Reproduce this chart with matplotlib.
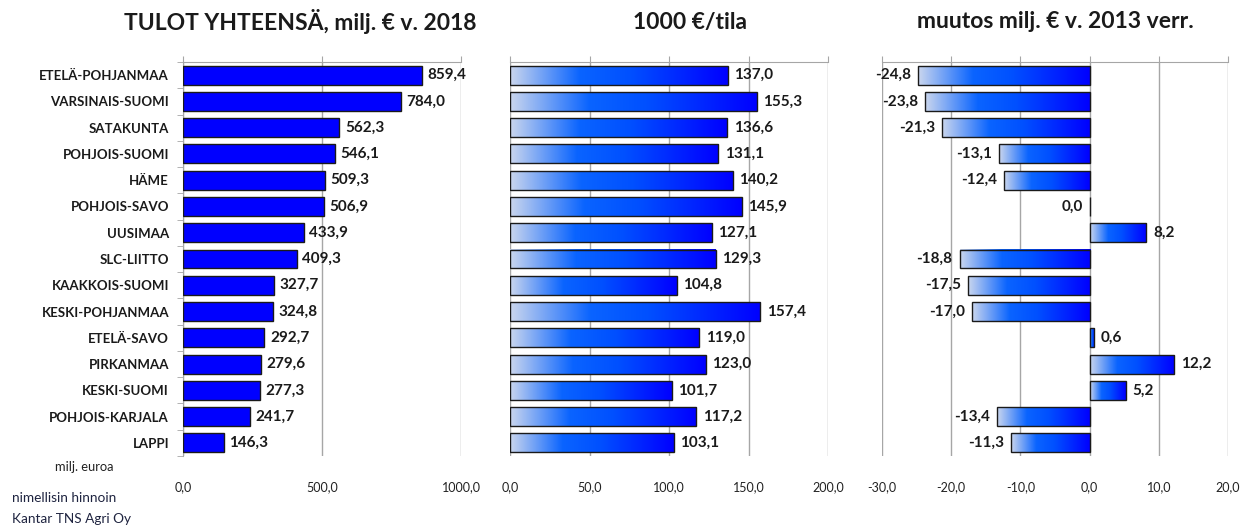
import numpy as np
import matplotlib.pyplot as plt
from matplotlib.colors import LinearSegmentedColormap

plt.rcParams['font.family'] = ['Lato', 'DejaVu Sans']

# Dados do gráfico
alueet = ['ETELÄ-POHJANMAA', 'VARSINAIS-SUOMI', 'SATAKUNTA', 'POHJOIS-SUOMI', 'HÄME',
          'POHJOIS-SAVO', 'UUSIMAA', 'SLC-LIITTO', 'KAAKKOIS-SUOMI', 'KESKI-POHJANMAA',
          'ETELÄ-SAVO', 'PIRKANMAA', 'KESKI-SUOMI', 'POHJOIS-KARJALA', 'LAPPI']
tulot = [859.4, 784.0, 562.3, 546.1, 509.3, 506.9, 433.9, 409.3, 327.7, 324.8,
         292.7, 279.6, 277.3, 241.7, 146.3]
tila = [137.0, 155.3, 136.6, 131.1, 140.2, 145.9, 127.1, 129.3, 104.8, 157.4,
        119.0, 123.0, 101.7, 117.2, 103.1]
muutos = [-24.8, -23.8, -21.3, -13.1, -12.4, 0.0, 8.2, -18.8, -17.5, -17.0,
          0.6, 12.2, 5.2, -13.4, -11.3]

otsikot = ['TULOT YHTEENSÄ, milj. € v. 2018', '1000 €/tila', 'muutos milj. € v. 2013 verr.']
rajat = [(0, 1000), (0, 200), (-30, 20)]
askeleet = [500, 50, 10]

# Degradê azul usado nos painéis 2 e 3
cmap = LinearSegmentedColormap.from_list(
    'sininen', [(0, '#cad6ee'), (0.32, '#0a64ff'), (0.55, '#0050ff'), (1, '#0000ff')])
gradiente = np.linspace(0, 1, 256).reshape(1, -1)

def fmt(v):
    return f'{v:.1f}'.replace('.', ',')

fig = plt.figure(figsize=(12.52, 5.31), dpi=100)
posicoes = [(183, 461), (510, 828), (882, 1228)]
topo, base = 62, 456
eixos = []
for (x0, x1) in posicoes:
    ax = fig.add_axes([x0 / 1252, 1 - base / 531, (x1 - x0) / 1252, (base - topo) / 531])
    eixos.append(ax)

y = np.arange(len(alueet))
altura = 0.72

for i, (ax, dados) in enumerate(zip(eixos, [tulot, tila, muutos])):
    lo, hi = rajat[i]
    if i == 0:
        ax.barh(y, dados, height=altura, color='#0000ff', edgecolor='#1a1a1a', linewidth=1.0, zorder=3)
    else:
        for yy, v in zip(y, dados):
            a, b = min(0, v), max(0, v)
            if b > a:
                ax.imshow(gradiente, cmap=cmap, aspect='auto', zorder=2,
                          extent=[a, b, yy + altura / 2, yy - altura / 2])
        ax.barh(y, dados, height=altura, facecolor='none', edgecolor='#1a1a1a', linewidth=1.0, zorder=3)
    # Rótulos de valor
    span = hi - lo
    for yy, v in zip(y, dados):
        if v > 0 or i < 2:
            ax.text(v + span * 0.02, yy, fmt(v), ha='left', va='center',
                    fontsize=11, fontweight='bold', color='#1a1a1a', zorder=4)
        else:
            ax.text(v - span * 0.02, yy, fmt(v), ha='right', va='center',
                    fontsize=11, fontweight='bold', color='#1a1a1a', zorder=4)
    ax.set_xlim(lo, hi)
    ax.set_ylim(len(alueet) - 0.5, -0.5)
    ticks = np.arange(lo, hi + 0.01, askeleet[i])
    ax.set_xticks(ticks)
    ax.set_xticklabels([fmt(t) for t in ticks], fontsize=9, color='#222222')
    ax.grid(axis='x', color='#a6a6a6', linewidth=1.0, zorder=0)
    ax.tick_params(axis='x', top=True, bottom=False, labeltop=False, labelbottom=True,
                   direction='out', length=4, color='#a6a6a6', pad=14)
    for s in ['right', 'bottom']:
        ax.spines[s].set_visible(False)
    ax.spines['top'].set_color('#a6a6a6')
    ax.spines['left'].set_color('#a6a6a6')
    ax.set_yticks(np.arange(len(alueet) + 1) - 0.5, minor=True)
    ax.set_yticks([])
    if i == 0:
        ax.set_yticks(y)
        ax.set_yticklabels(alueet, fontsize=9.5, fontweight='bold', color='#1a1a1a')
        ax.tick_params(axis='y', which='major', length=0, pad=10)
        ax.tick_params(axis='y', which='minor', length=4, color='#a6a6a6')
    else:
        ax.tick_params(axis='y', which='minor', length=0)
        ax.spines['left'].set_visible(False)

# Títulos dos painéis
for x, t in zip([300, 690, 1055], otsikot):
    fig.text(x / 1252, 1 - 22 / 531, t, ha='center', va='center', fontsize=16.5, fontweight='bold', color='#1a1a1a')

# Notas de rodapé
fig.text(55 / 1252, 1 - 467 / 531, 'milj. euroa', ha='left', va='center', fontsize=9.3, color='#222222')
fig.text(12 / 1252, 1 - 498 / 531, 'nimellisin hinnoin', ha='left', va='center', fontsize=9.8, color='#1f2440')
fig.text(12 / 1252, 1 - 519 / 531, 'Kantar TNS Agri Oy', ha='left', va='center', fontsize=9.8, color='#1f2440')

fig.savefig('out.png', dpi=100)
